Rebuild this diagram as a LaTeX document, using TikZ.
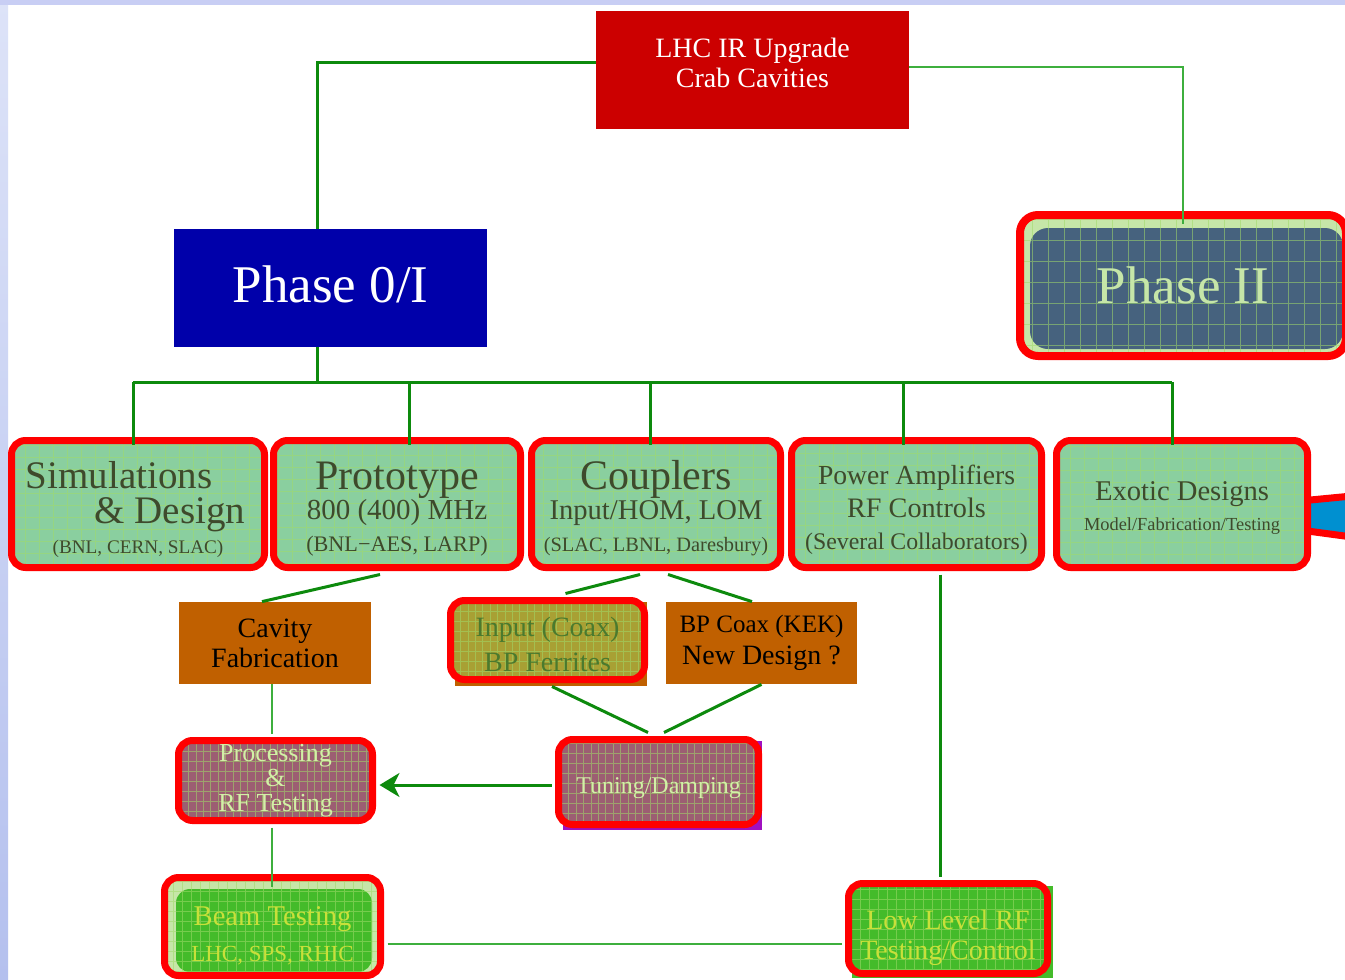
\documentclass[tikz,border=0pt]{standalone}
\usepackage{fontspec}
\setmainfont{Liberation Serif}
\usetikzlibrary{arrows.meta}

\definecolor{lhcred}{HTML}{CC0000}
\definecolor{hired}{HTML}{FF0000}
\definecolor{phaseblue}{HTML}{0000AA}
\definecolor{slate}{HTML}{46627E}
\definecolor{ringgreen}{HTML}{C6E6A8}
\definecolor{mint}{HTML}{8ACF9F}
\definecolor{olivetext}{HTML}{3E4A2C}
\definecolor{rust}{HTML}{C06000}
\definecolor{olive}{HTML}{A8A034}
\definecolor{olivegreen}{HTML}{4A7A2E}
\definecolor{mauve}{HTML}{9C5E72}
\definecolor{violet}{HTML}{A010C0}
\definecolor{paleleaf}{HTML}{D2F0A6}
\definecolor{leaf}{HTML}{44BB2A}
\definecolor{lime}{HTML}{C8E03A}
\definecolor{meshgreen}{HTML}{A0DA6A}
\definecolor{linkgreen}{HTML}{0D8A0D}
\definecolor{lightlink}{HTML}{3DAF3D}
\definecolor{cyanblue}{HTML}{0090D0}
\definecolor{lavtop}{HTML}{C8CEF4}
\definecolor{lavlight}{HTML}{DDE3F8}
\definecolor{lavdark}{HTML}{B4C0EE}

\newcommand{\setsz}[2]{\fontsize{#1}{#2}\selectfont}
\newcommand{\padtop}[1]{\rule{0pt}{#1}}
\newcommand{\padbot}[1]{\rule[-#1]{0pt}{0pt}}

\tikzset{
  flatbox/.style={inner sep=0pt,align=center},
  redbox/.style={flatbox,draw=hired,line width=3.5pt,rounded corners=7pt},
  mesh/.style 2 args={path picture={
      \draw[meshgreen,line width=0.5pt,opacity=0.55]
        (path picture bounding box.south west) grid[xstep=#1,ystep=#2]
        (path picture bounding box.north east);}},
  toprow/.style={redbox,fill=mint,mesh={7pt}{6pt},text=olivetext,
    minimum height=63.5pt,font=\setsz{14}{15}},
  link/.style={draw=linkgreen,line width=1.5pt},
  thinlink/.style={draw=lightlink,line width=1pt},
}

\begin{document}
\begin{tikzpicture}[x=0.5pt,y=-0.5pt]
  \useasboundingbox (0,0) rectangle (1345,980);
  \fill[white] (0,0) rectangle (1345,980);
  \shade[top color=lavlight,bottom color=lavdark] (0,0) rectangle (8,980);
  \fill[lavtop] (0,0) rectangle (1345,5);

  \node[flatbox,fill=lhcred,text=white,minimum width=156.5pt,minimum height=59pt,
    font=\setsz{14}{15}] (lhc) at (752.5,70) {LHC IR Upgrade\\Crab Cavities\padbot{7pt}};
  \node[flatbox,fill=phaseblue,text=white,minimum width=156.5pt,minimum height=59pt,
    font=\setsz{26.5}{30}] (ph0) at (330.5,288) {Phase 0/I\padbot{4pt}};
  \node[redbox,line width=4pt,rounded corners=9pt,fill=ringgreen,text=ringgreen,
    minimum width=163pt,minimum height=70.5pt,font=\setsz{26.5}{30},
    path picture={
      \fill[slate] ([shift={(5pt,-6.5pt)}]path picture bounding box.north west)
        rectangle ([shift={(-1.5pt,3.5pt)}]path picture bounding box.south east);
      \draw[meshgreen,line width=0.5pt,opacity=0.55]
        (path picture bounding box.south west) grid[xstep=8pt,ystep=10.5pt]
        (path picture bounding box.north east);}] (ph2) at (1183,285.5) {Phase II};

  \draw[draw=hired,line width=3.5pt,fill=cyanblue]
    (1300,501) -- (1352,496) -- (1352,537) -- (1300,530) -- cycle;

  \node[toprow,minimum width=126.5pt] (sim) at (138,504)
    {{\setsz{19.5}{20}\padtop{19.5pt}Simulations\hspace*{19pt}}\\[2.5pt]{\setsz{19.5}{20}\hspace*{32pt}\& Design}\\{\setsz{9.6}{10}(BNL, CERN, SLAC)}};
  \node[toprow,minimum width=123.5pt] (proto) at (397,504)
    {{\setsz{21}{21}\padtop{19pt}Prototype}\\{\setsz{14.5}{15}800 (400) MHz}\\[1pt]{\setsz{11.1}{12}(BNL−AES, LARP)}};
  \node[toprow,minimum width=124.5pt] (coup) at (656,504)
    {{\setsz{21}{21}\padtop{19pt}Couplers}\\{\setsz{14.3}{15}Input/HOM, LOM}\\[1pt]{\setsz{10.2}{11}(SLAC, LBNL, Daresbury)}};
  \node[toprow,minimum width=125pt] (pamp) at (916.5,504)
    {{\setsz{13.8}{15}\padtop{16pt}Power Amplifiers}\\[1.5pt]{\setsz{14.1}{15}RF Controls}\\[1pt]{\setsz{11.9}{13}(Several Collaborators)}};
  \node[toprow,minimum width=125.5pt] (exo) at (1182,504)
    {{\setsz{14.3}{15}\padtop{13.3pt}Exotic Designs}\\{\setsz{9.2}{10}Model/Fabrication/Testing}};

  \fill[rust] (455,602) rectangle (647,686);
  \fill[violet] (563,741) rectangle (762,830);
  \fill[leaf] (852,886) rectangle (1053,978);

  \node[flatbox,fill=rust,minimum width=96pt,minimum height=41pt,
    font=\setsz{14}{15}] (cav) at (275,643) {Cavity\\Fabrication};
  \node[redbox,fill=olive,mesh={3.7pt}{5pt},text=olivegreen,minimum width=97pt,
    minimum height=39.5pt,font=\setsz{14}{17.5}] (inp) at (547.5,640) {\padtop{14pt}Input (Coax)\\BP Ferrites};
  \node[flatbox,fill=rust,minimum width=95.5pt,minimum height=41pt,
    font=\setsz{14}{16}] (bpc) at (761.5,643) {{\setsz{12.5}{15}BP Coax (KEK)}\\New Design ?};
  \node[redbox,fill=mauve,mesh={3.7pt}{5pt},text=paleleaf,minimum width=100pt,
    minimum height=42.5pt,font=\setsz{12}{14}] (tun) at (658.5,782) {\padtop{13.6pt}Tuning/Damping};
  \node[redbox,fill=mauve,mesh={3.7pt}{5pt},text=paleleaf,minimum width=97pt,
    minimum height=40pt,font={\setsz{13}{12.5}\lineskiplimit=-20pt}] (proc) at (275.5,780.5)
    {Processing\\\&\\RF Testing};
  \node[redbox,fill=ringgreen,text=lime,minimum width=108pt,minimum height=49pt,
    font=\setsz{14.3}{18},
    path picture={
      \fill[leaf] ([shift={(5.75pt,-5.75pt)}]path picture bounding box.north west)
        rectangle ([shift={(-4.25pt,1.75pt)}]path picture bounding box.south east);
      \draw[meshgreen,line width=0.5pt,opacity=0.55]
        (path picture bounding box.south west) grid[xstep=4.5pt,ystep=5pt]
        (path picture bounding box.north east);}] (beam) at (272.5,926.5)
    {\padtop{18.3pt}Beam Testing\\{\setsz{11.5}{12}LHC, SPS, RHIC}};
  \node[redbox,fill=leaf,mesh={4.5pt}{5pt},text=lime,minimum width=99.5pt,
    minimum height=45pt,font=\setsz{14}{15}] (llrf) at (948,928.5) {\padtop{19pt}Low Level RF\\Testing/Control};

  \draw[link] ([yshift=4pt]lhc.west) -| ([xshift=-6.75pt]ph0.north);
  \draw[thinlink] ([yshift=1.5pt]lhc.east) -| ([yshift=-6.5pt]ph2.north);
  \draw[link] ([xshift=-6.75pt]ph0.south) -- ++(0,35) coordinate (bus);
  \foreach \nd/\dx in {sim/-2.5,proto/6,coup/-3,pamp/-6.75,exo/-5}
    \draw[link] ([xshift=\dx pt]\nd.north |- bus) coordinate (drop-\nd)
      -- ([xshift=\dx pt,yshift=-4pt]\nd.north);
  \draw[link] (drop-sim) -- (drop-exo);

  \draw[link] ([xshift=-8.5pt,yshift=-1.75pt]proto.south) -- ([xshift=-6.5pt]cav.north);
  \draw[link] ([xshift=-8pt,yshift=-1.75pt]coup.south) -- ([xshift=9pt,yshift=1.75pt]inp.north);
  \draw[link] ([xshift=6pt,yshift=-1.75pt]coup.south) -- ([xshift=-4.75pt]bpc.north);
  \draw[link] ([xshift=2.25pt,yshift=-1.75pt]inp.south) -- ([xshift=-5.25pt,yshift=1.75pt]tun.north);
  \draw[link] (bpc.south) -- ([xshift=2.75pt,yshift=1.75pt]tun.north);
  \draw[link,-{Stealth[length=10pt,width=12pt,inset=3pt]}]
    ([xshift=-1.75pt,yshift=-1.5pt]tun.west) -- ([xshift=1.75pt,yshift=-2.25pt]proc.east);
  \draw[thinlink] ([xshift=-1.5pt]cav.south) -- ([xshift=-1.75pt,yshift=1.75pt]proc.north);
  \draw[thinlink] ([xshift=-1.75pt,yshift=-1.75pt]proc.south) -- ([xshift=-0.25pt,yshift=-6.25pt]beam.north);
  \draw[thinlink,line width=1.25pt] ([xshift=1.75pt,yshift=-8.75pt]beam.east)
    -- ([xshift=-1.75pt,yshift=-7.75pt]llrf.west);
  \draw[link] ([xshift=11.75pt,yshift=-1.75pt]pamp.south) -- ([xshift=-4pt,yshift=1.75pt]llrf.north);
\end{tikzpicture}
\end{document}
